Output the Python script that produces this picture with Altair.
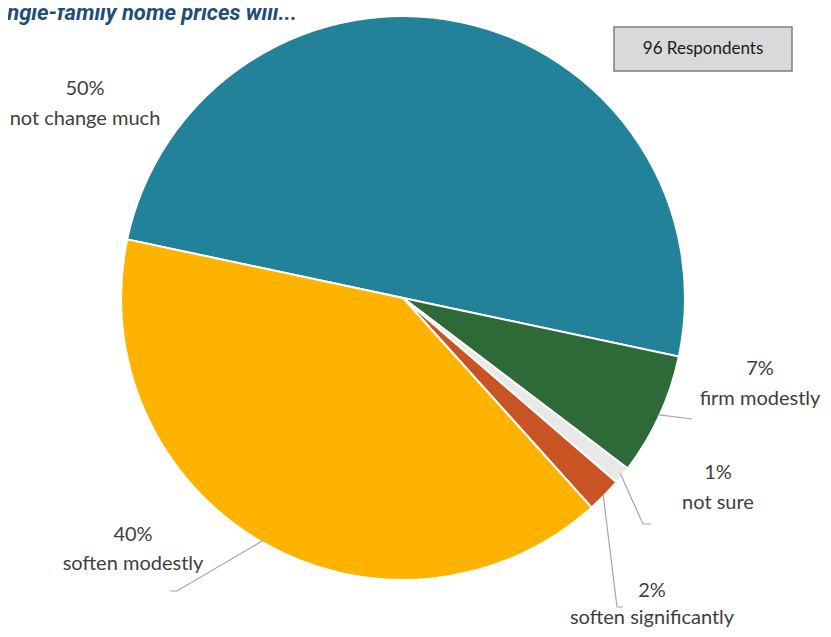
import math
import altair as alt
import pandas as pd

# ---- data ----
categories = ["not change much", "firm modestly", "not sure", "soften significantly", "soften modestly"]
percents = [50, 7, 1, 2, 40]
colors = ["#228299", "#2D6A37", "#E8E8E6", "#C85424", "#FDB300"]
title_text = "Single-family home prices will..."
respondents_text = "96 Respondents"

# ---- layout ----
W, H = 815, 621
CX, CY, R = 395, 290, 282
START_DEG = 282
FONT = "Lato"

# label layout (center x, y of pct line, y of name line)
label_pos = {
    "not change much": (77, 81, 111),
    "firm modestly": (752, 361, 391),
    "not sure": (710, 465, 495),
    "soften significantly": (644, 583, 610),
    "soften modestly": (125, 527, 556),
}
# leader line extra points (after the slice edge point)
leader_pts = {
    "firm modestly": [(684, 411)],
    "not sure": [(635, 516), (643, 516)],
    "soften significantly": [(609, 599), (615, 599)],
    "soften modestly": [(169, 583), (162, 583)],
}

start = math.radians(START_DEG)
total = sum(percents)

pie_df = pd.DataFrame({"category": categories, "pct": percents, "order": list(range(len(categories)))})

arcs = alt.Chart(pie_df).mark_arc(outerRadius=R, stroke="white", strokeWidth=2).encode(
    theta=alt.Theta("pct:Q", stack=True, scale=alt.Scale(range=[start, start + 2 * math.pi])),
    order=alt.Order("order:Q"),
    color=alt.Color("category:N", scale=alt.Scale(domain=categories, range=colors), legend=None),
    x=alt.value(CX),
    y=alt.value(CY),
)

# labels
lab_rows = []
line_rows = []
cum = 0
for cat, p in zip(categories, percents):
    mid = start + (cum + p / 2) / total * 2 * math.pi
    cum += p
    lx, ly1, ly2 = label_pos[cat]
    lab_rows.append({"x": lx, "y": ly1, "t": f"{p}%"})
    lab_rows.append({"x": lx, "y": ly2, "t": cat})
    if cat in leader_pts:
        sx = CX + (R - 2) * math.sin(mid)
        sy = CY - (R - 2) * math.cos(mid)
        pts = [(sx, sy)] + leader_pts[cat]
        for i, (px, py) in enumerate(pts):
            line_rows.append({"category": cat, "seq": i, "x": px, "y": py})

lab_df = pd.DataFrame(lab_rows)
line_df = pd.DataFrame(line_rows)

xs = alt.Scale(domain=[0, W], range=[0, W], nice=False, zero=False)
ys = alt.Scale(domain=[0, H], range=[0, H], nice=False, zero=False)

labels = alt.Chart(lab_df).mark_text(font=FONT, fontSize=20, color="#404040", baseline="middle", align="center").encode(
    x=alt.X("x:Q", scale=xs, axis=None),
    y=alt.Y("y:Q", scale=ys, axis=None),
    text="t:N",
)

leaders = alt.Chart(line_df).mark_line(color="#A6A6A6", strokeWidth=1.2).encode(
    x=alt.X("x:Q", scale=xs, axis=None),
    y=alt.Y("y:Q", scale=ys, axis=None),
    detail="category:N",
    order="seq:Q",
)

box_df = pd.DataFrame({"x": [606], "x2": [784], "y": [19], "y2": [63], "t": [respondents_text], "cx": [695], "cy": [41]})
box = alt.Chart(box_df).mark_rect(fill="#D9D9D9", stroke="#7F7F7F", strokeWidth=1.5).encode(
    x=alt.X("x:Q", scale=xs, axis=None), x2="x2:Q",
    y=alt.Y("y:Q", scale=ys, axis=None), y2="y2:Q",
)
box_text = alt.Chart(box_df).mark_text(font=FONT, fontSize=17, color="#1A1A1A", baseline="middle", align="center").encode(
    x=alt.X("cx:Q", scale=xs, axis=None),
    y=alt.Y("cy:Q", scale=ys, axis=None),
    text="t:N",
)

title_df = pd.DataFrame({"t": [title_text]})
title = alt.Chart(title_df).mark_text(
    font="Roboto", fontSize=22, fontWeight="bold", fontStyle="italic", color="#1F4E79",
    align="right", baseline="alphabetic",
).encode(x=alt.value(289), y=alt.value(12), text="t:N")

chart = alt.layer(arcs, leaders, labels, box, box_text, title).properties(
    width=W, height=H, padding=0, autosize="none"
).configure_view(stroke=None)

chart.save("out.html", embed_options={"renderer": "svg", "actions": False})
